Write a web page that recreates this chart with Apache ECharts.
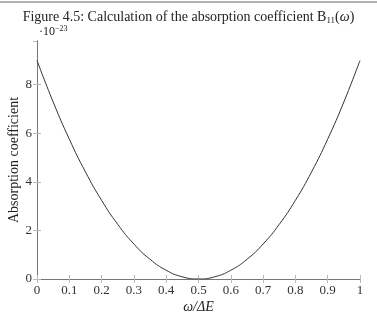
<!DOCTYPE html>
<html>
<head>
<meta charset="utf-8">
<script src="https://cdn.jsdelivr.net/npm/echarts@6/dist/echarts.min.js"></script>
<style>
  html, body { margin: 0; padding: 0; background: #fff; }
  #main { width: 377px; height: 315px; }
</style>
</head>
<body>
<div id="main"></div>
<script>
// omega / delta E
var xValues = [0, 0.05, 0.1, 0.15, 0.2, 0.25, 0.3, 0.35, 0.4, 0.45, 0.5,
               0.55, 0.6, 0.65, 0.7, 0.75, 0.8, 0.85, 0.9, 0.95, 1];
// absorption coefficient, units of 1e-23
var absorption = [9, 7.29, 5.76, 4.41, 3.24, 2.25, 1.44, 0.81, 0.36, 0.09, 0,
                  0.09, 0.36, 0.81, 1.44, 2.25, 3.24, 4.41, 5.76, 7.29, 9];

var serif = '"Liberation Serif", "DejaVu Serif", serif';
var chart = echarts.init(document.getElementById('main'));

var pts = xValues.map(function (x, i) { return [x, absorption[i]]; });

chart.setOption({
    animation: false,
    title: {
        text: '{n|Figure 4.5: Calculation of the absorption coefficient B}{s|11}{n|(}{i|ω}{n|)}',
        left: 'center',
        top: 5,
        textStyle: {
            fontWeight: 'normal',
            rich: {
                n: { fontFamily: serif, fontSize: 14, fontWeight: 'normal', color: '#222' },
                i: { fontFamily: serif, fontSize: 14, fontWeight: 'normal', fontStyle: 'italic', color: '#222' },
                s: { fontFamily: serif, fontSize: 9, fontWeight: 'normal', color: '#222', verticalAlign: 'bottom', padding: [6, 0, 0, 0] }
            }
        }
    },
    graphic: [
        { type: 'line', shape: { x1: 0, y1: 2, x2: 377, y2: 2 }, style: { stroke: '#999', lineWidth: 1.5 } },
        { type: 'text', left: 39, top: 25,
          style: { text: '·10{e|−23}', font: '12px ' + serif, fill: '#222',
                   rich: { e: { fontSize: 8, fontFamily: serif, verticalAlign: 'top', padding: [0, 0, 6, 0] } } } }
    ],
    grid: { left: 37, right: 17, top: 41, bottom: 36, outerBoundsMode: 'none' },
    xAxis: [{
        type: 'value', min: 0, max: 1, interval: 0.1,
        name: 'ω/ΔE', nameLocation: 'middle', nameGap: 21, nameMoveOverlap: false,
        nameTextStyle: { fontFamily: serif, fontSize: 14, fontStyle: 'italic', color: '#222' },
        axisLine: { onZero: false, lineStyle: { color: '#777' } },
        axisTick: { inside: true, length: 4, lineStyle: { color: '#bbb' } },
        axisLabel: { fontFamily: serif, fontSize: 13, color: '#333', margin: 5 },
        splitLine: { show: false }
    }, {
        type: 'value', position: 'top', min: 0, max: 1, interval: 0.1,
        axisLine: { lineStyle: { color: '#777' } },
        axisTick: { inside: true, length: 4, lineStyle: { color: '#bbb' } },
        axisLabel: { show: false }, splitLine: { show: false }
    }],
    yAxis: [{
        type: 'value', min: 0, max: 9.8, interval: 2,
        name: 'Absorption coefficient', nameLocation: 'middle', nameGap: 16, nameMoveOverlap: false,
        nameTextStyle: { fontFamily: serif, fontSize: 14, color: '#222' },
        axisLine: { show: true, onZero: false, lineStyle: { color: '#777' } },
        axisTick: { show: true, inside: true, length: 4, lineStyle: { color: '#bbb' } },
        axisLabel: { fontFamily: serif, fontSize: 13, color: '#333', margin: 5, showMaxLabel: false },
        splitLine: { show: false }
    }, {
        type: 'value', position: 'right', min: 0, max: 9.8, interval: 2,
        axisLine: { show: true, lineStyle: { color: '#777' } },
        axisTick: { show: true, inside: true, length: 4, lineStyle: { color: '#bbb' } },
        axisLabel: { show: false }, splitLine: { show: false }
    }],
    series: [{
        type: 'line',
        data: pts,
        smooth: true,
        showSymbol: false,
        lineStyle: { color: '#333', width: 1 }
    }]
});
</script>
</body>
</html>
